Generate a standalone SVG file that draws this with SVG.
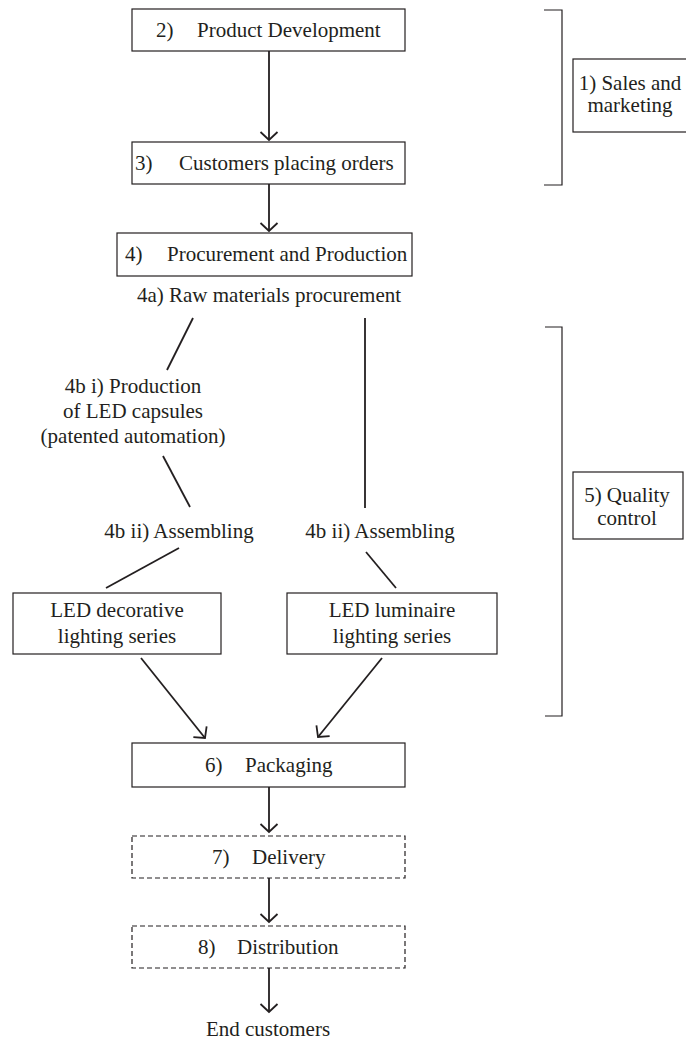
<svg xmlns="http://www.w3.org/2000/svg" width="686" height="1040" viewBox="0 0 686 1040" font-family="'Liberation Serif', 'DejaVu Serif', 'Times New Roman', serif">
<style>
  text { font-family: 'Liberation Serif', 'DejaVu Serif', 'Times New Roman', serif; font-size: 21px; fill: #231f20; }
  .c { text-anchor: middle; }
  .box { fill: #ffffff; stroke: #231f20; stroke-width: 1.2; }
  .dash { fill: #ffffff; stroke: #231f20; stroke-width: 1.2; stroke-dasharray: 5 3; }
  .ln { fill: none; stroke: #231f20; stroke-width: 1.8; }
  .br { fill: none; stroke: #231f20; stroke-width: 1.2; }
</style>
<defs>
  <marker id="arr" markerUnits="userSpaceOnUse" markerWidth="24" markerHeight="24" viewBox="-12 -12 24 24" refX="0" refY="0" orient="auto">
    <path d="M-8,-8.5 L0,0 L-8,8.5" fill="none" stroke="#231f20" stroke-width="1.8"/>
  </marker>
</defs>
<rect width="686" height="1040" fill="#ffffff"/>

<g id="connectors">
  <line class="ln" x1="269" y1="51" x2="269" y2="140" marker-end="url(#arr)"/>
  <line class="ln" x1="269" y1="184" x2="269" y2="231" marker-end="url(#arr)"/>
  <line class="ln" x1="193" y1="318" x2="167" y2="370"/>
  <line class="ln" x1="163" y1="456" x2="190" y2="507"/>
  <line class="ln" x1="179" y1="548" x2="106" y2="588"/>
  <line class="ln" x1="365" y1="318" x2="365" y2="508"/>
  <line class="ln" x1="366" y1="552" x2="396" y2="588"/>
  <line class="ln" x1="141" y1="658" x2="205" y2="738" marker-end="url(#arr)"/>
  <line class="ln" x1="382" y1="658" x2="318" y2="737" marker-end="url(#arr)"/>
  <line class="ln" x1="269" y1="787" x2="269" y2="832" marker-end="url(#arr)"/>
  <line class="ln" x1="269" y1="878" x2="269" y2="922" marker-end="url(#arr)"/>
  <line class="ln" x1="269" y1="968" x2="269" y2="1012" marker-end="url(#arr)"/>
</g>

<g id="bracket-sales">
  <path class="br" d="M544,10 H562 V185 H544"/>
</g>
<g id="sales">
  <rect class="box" x="573" y="59" width="120" height="73"/>
  <text class="c" x="630" y="90">1) Sales and</text>
  <text class="c" x="630" y="112">marketing</text>
</g>

<g id="product-development">
  <rect class="box" x="132" y="9" width="273" height="42"/>
  <text x="156" y="37">2)</text>
  <text x="197" y="37">Product Development</text>
</g>

<g id="customers-orders">
  <rect class="box" x="132" y="142" width="273" height="42"/>
  <text x="135" y="170">3)</text>
  <text x="179" y="170">Customers placing orders</text>
</g>

<g id="procurement-production">
  <rect class="box" x="117" y="233" width="295" height="43"/>
  <text x="125" y="261">4)</text>
  <text x="167" y="261">Procurement and Production</text>
</g>

<g id="raw-materials">
  <text class="c" x="269" y="302">4a) Raw materials procurement</text>
</g>

<g id="led-capsules">
  <text class="c" x="133" y="393">4b i) Production</text>
  <text class="c" x="133" y="418">of LED capsules</text>
  <text class="c" x="133" y="443">(patented automation)</text>
</g>

<g id="assembling-left">
  <text class="c" x="179" y="538">4b ii) Assembling</text>
</g>
<g id="assembling-right">
  <text class="c" x="380" y="538">4b ii) Assembling</text>
</g>

<g id="led-decorative">
  <rect class="box" x="13" y="593" width="208" height="61"/>
  <text class="c" x="117" y="617">LED decorative</text>
  <text class="c" x="117" y="643">lighting series</text>
</g>

<g id="led-luminaire">
  <rect class="box" x="287" y="593" width="210" height="61"/>
  <text class="c" x="392" y="617">LED luminaire</text>
  <text class="c" x="392" y="643">lighting series</text>
</g>

<g id="bracket-quality">
  <path class="br" d="M545,327 H562 V716 H545"/>
</g>
<g id="quality">
  <rect class="box" x="573" y="472" width="110" height="67"/>
  <text class="c" x="627" y="502">5) Quality</text>
  <text class="c" x="627" y="525">control</text>
</g>

<g id="packaging">
  <rect class="box" x="132" y="743" width="273" height="44"/>
  <text x="205" y="772">6)</text>
  <text x="245" y="772">Packaging</text>
</g>

<g id="delivery">
  <rect class="dash" x="132" y="836" width="273" height="42"/>
  <text x="212" y="864">7)</text>
  <text x="252" y="864">Delivery</text>
</g>

<g id="distribution">
  <rect class="dash" x="132" y="926" width="273" height="42"/>
  <text x="198" y="954">8)</text>
  <text x="237" y="954">Distribution</text>
</g>

<g id="end-customers">
  <text class="c" x="268" y="1036">End customers</text>
</g>
</svg>
